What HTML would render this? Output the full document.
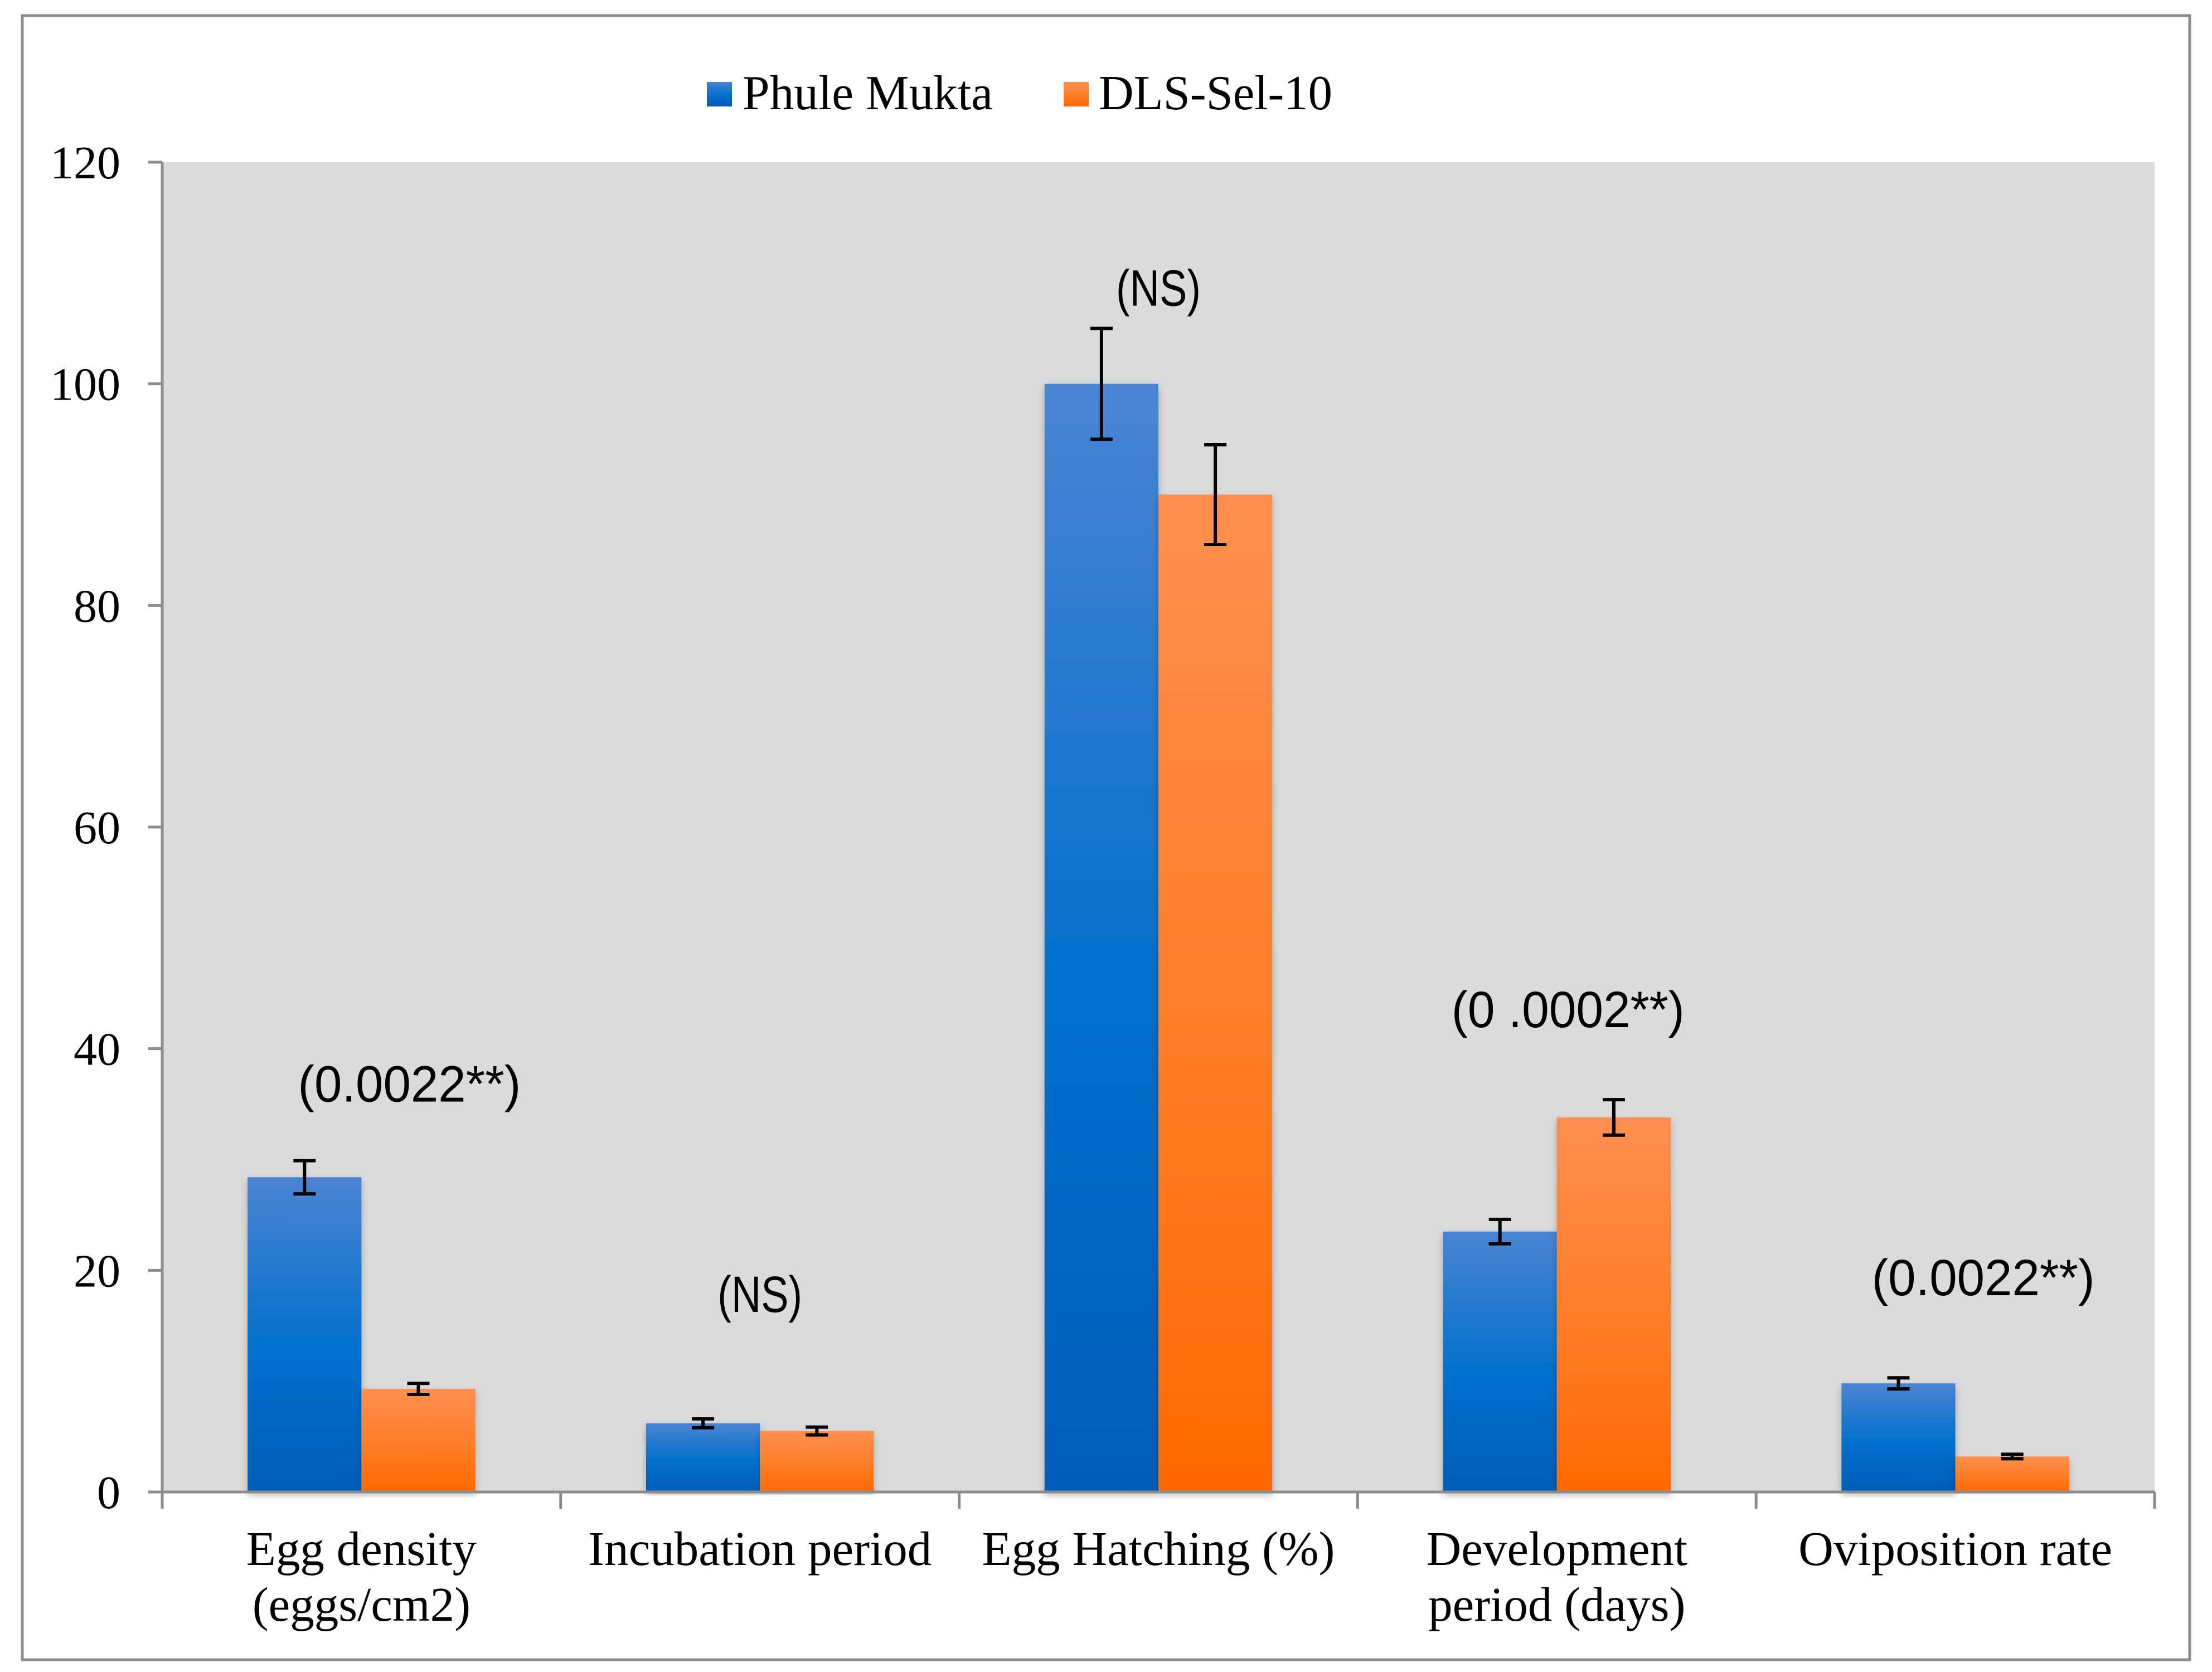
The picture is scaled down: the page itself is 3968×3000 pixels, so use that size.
<!DOCTYPE html>
<html><head><meta charset="utf-8"><style>
html,body{margin:0;padding:0;background:#fff;}
svg{display:block;}
.serif{font-family:"Liberation Serif","Times New Roman",serif;}
.sans{font-family:"Liberation Sans",Arial,sans-serif;}
</style></head>
<body>
<svg id="chart" xmlns="http://www.w3.org/2000/svg" width="3968" height="3000" viewBox="0 0 3968 3000">
<defs>
<linearGradient id="gBlue" x1="0" y1="0" x2="0" y2="1">
<stop offset="0" stop-color="#4a84d2"/><stop offset="0.55" stop-color="#0070cc"/><stop offset="1" stop-color="#005db8"/>
</linearGradient>
<linearGradient id="gOrange" x1="0" y1="0" x2="0" y2="1">
<stop offset="0" stop-color="#ff8f4f"/><stop offset="0.55" stop-color="#ff7d26"/><stop offset="1" stop-color="#ff6a00"/>
</linearGradient>
<filter id="sh" x="-10%" y="-5%" width="120%" height="110%"><feDropShadow dx="0" dy="6" stdDeviation="6" flood-color="#000" flood-opacity="0.25"/></filter>
</defs>
<rect x="40" y="28" width="3888" height="2950" fill="#fff" stroke="#8c8c8c" stroke-width="5"/>
<rect x="291" y="291" width="3574" height="2386" fill="#dbdbdb"/>
<g id="bars"></g>
<g id="axes"></g>
<g id="labels"></g>
<g>
<rect x="1268" y="147" width="45" height="44" fill="url(#gBlue)"/>
<text class="serif" x="1332" y="196" font-size="88" textLength="449" lengthAdjust="spacingAndGlyphs">Phule Mukta</text>
<rect x="1908" y="147" width="45" height="44" fill="url(#gOrange)"/>
<text class="serif" x="1971" y="196" font-size="88" textLength="419" lengthAdjust="spacingAndGlyphs">DLS-Sel-10</text>
</g>
</svg>
<script>
const categories = [["Egg density","(eggs/cm2)"],["Incubation period"],["Egg Hatching (%)"],["Development","period (days)"],["Oviposition rate"]];
const phuleMukta = [28.4, 6.2, 100, 23.5, 9.8];
const phuleErr = [1.5, 0.4, 5, 1.1, 0.5];
const dlsSel10 = [9.3, 5.5, 90, 33.8, 3.2];
const dlsErr = [0.5, 0.35, 4.5, 1.6, 0.2];
const annotations = ["(0.0022**)", "(NS)", "(NS)", "(0 .0002**)", "(0.0022**)"];
const annotationValues = [36.5, 17.5, 108.3, 43.2, 19];
const yTicks = [0, 20, 40, 60, 80, 100, 120];

const NS = "http://www.w3.org/2000/svg";
const X0 = 291, X1 = 3865, Y0 = 2677, Y1 = 291, YMAX = 120;
const catW = (X1 - X0) / categories.length;
const barW = catW * 0.2857;
const annShift = [86, 0, 0, 20, 50];
const annWidth = [400, 152, 152, 418, 400];
function y(v){ return Y0 - (v / YMAX) * (Y0 - Y1); }
function catX(i){ return X0 + catW * (i + 0.5); }
function mk(tag, attrs, parent){ const e = document.createElementNS(NS, tag); for (const k in attrs) e.setAttribute(k, attrs[k]); parent.appendChild(e); return e; }

const bars = document.getElementById('bars');
const axes = document.getElementById('axes');
const labels = document.getElementById('labels');

function drawBar(i, v, err, fill, xLeft, series){
  const r = mk('rect', {x: xLeft, y: y(v), width: barW, height: Y0 - y(v), fill: fill, filter: 'url(#sh)'}, bars);
  
  
  const cx = xLeft + barW / 2;
  const g = mk('g', {stroke: '#000', 'stroke-width': 6}, bars);
  
  
  mk('line', {x1: cx, x2: cx, y1: y(v + err), y2: y(v - err)}, g);
  mk('line', {x1: cx - 20, x2: cx + 20, y1: y(v + err), y2: y(v + err)}, g);
  mk('line', {x1: cx - 20, x2: cx + 20, y1: y(v - err), y2: y(v - err)}, g);
}

categories.forEach((c, i) => {
  const cx = catX(i);
  drawBar(i, phuleMukta[i], phuleErr[i], 'url(#gBlue)', cx - barW, 'phule-mukta');
  drawBar(i, dlsSel10[i], dlsErr[i], 'url(#gOrange)', cx, 'dls-sel-10');
  c.forEach((line, j) => {
    const t = mk('text', {x: cx, y: 2808 + j * 100, 'text-anchor': 'middle', 'font-size': 87, class: 'serif'}, labels);
    
    
    t.textContent = line;
  });
  const a = mk('text', {x: cx + annShift[i], y: y(annotationValues[i]) + 25, 'text-anchor': 'middle', 'font-size': 92, class: 'sans', textLength: annWidth[i], lengthAdjust: 'spacingAndGlyphs'}, labels);
  
  
  a.textContent = annotations[i];
});

const yAxis = mk('line', {x1: X0, x2: X0, y1: Y1, y2: Y0 + 2, stroke: '#8c8c8c', 'stroke-width': 5}, axes);


const xAxis = mk('line', {x1: X0 - 25, x2: X1, y1: Y0, y2: Y0, stroke: '#8c8c8c', 'stroke-width': 5}, axes);


yTicks.forEach(v => {
  const tk = mk('line', {x1: X0 - 25, x2: X0, y1: y(v), y2: y(v), stroke: '#8c8c8c', 'stroke-width': 5}, axes);
  
  
  const t = mk('text', {x: 216, y: y(v) + 29, 'text-anchor': 'end', 'font-size': 84, class: 'serif'}, labels);
  
  
  t.textContent = v;
});
for (let i = 0; i <= categories.length; i++) {
  const xx = X0 + catW * i;
  const tk = mk('line', {x1: xx, x2: xx, y1: Y0, y2: Y0 + 30, stroke: '#8c8c8c', 'stroke-width': 5}, axes);
  
  
}
</script>
</body></html>
